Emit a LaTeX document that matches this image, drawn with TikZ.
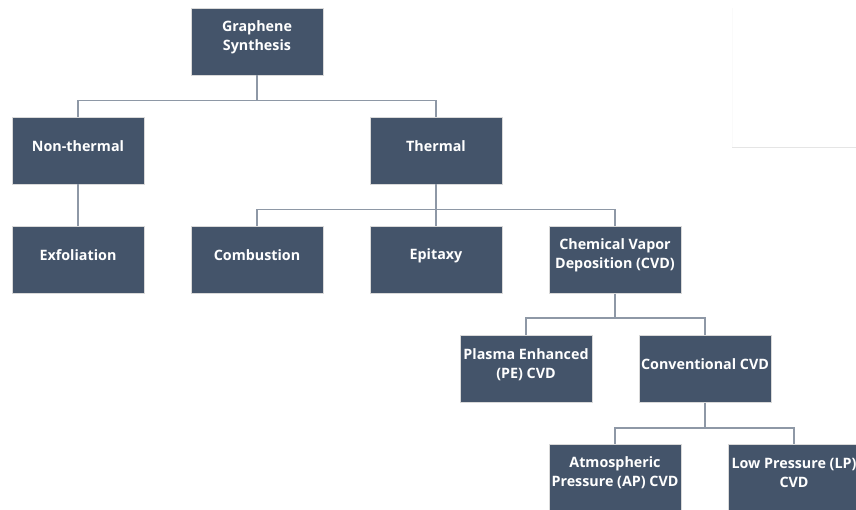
\documentclass[tikz,border=0pt]{standalone}
\usepackage{fontspec}
\setmainfont{Open Sans}
\begin{document}
\begin{tikzpicture}[x=1pt,y=-1pt,
  box/.style={draw=white!85!black,line width=0.6pt,fill=boxblue,
    minimum width=132pt,minimum height=67pt,inner sep=0pt},
  lab/.style={text=white,align=center,inner sep=0pt,yshift=4.5pt,
    font=\bfseries\fontsize{14.3}{19}\selectfont},
  conn/.style={draw=linegray,line width=1.4pt}]
\definecolor{boxblue}{HTML}{44546A}
\definecolor{linegray}{HTML}{8E98A6}
\useasboundingbox (0,0) rectangle (856,509);
\fill[white] (0,0) rectangle (856,509);
% faint stray rules at right
\coordinate (fc) at (732,8);
\coordinate (fa) at (732,147);
\coordinate (fb) at (856,147);
\draw[color=black!2,line width=0.5pt] (fc) -- (fa);
\draw[color=black!10,line width=0.8pt] (fa) -- (fb);

\node[box,label={[lab]center:Graphene\\Synthesis}] (gs) at (257,41.5) {};
\node[box,label={[lab]center:Non-thermal}] (nt) at (78,150.5) {};
\node[box,label={[lab]center:Thermal}] (th) at (436,150.5) {};
\node[box,label={[lab]center:Exfoliation}] (ex) at (78,260) {};
\node[box,label={[lab]center:Combustion}] (co) at (257,260) {};
\node[box,label={[lab]center:Epitaxy}] (ep) at (436,260) {};
\node[box,label={[lab]center:Chemical Vapor\\Deposition (CVD)}] (cvd) at (615,260) {};
\node[box,label={[lab]center:Plasma Enhanced\\(PE) CVD}] (pe) at (526,369) {};
\node[box,label={[lab]center:Conventional CVD}] (cc) at (705,369) {};
\node[box,label={[lab]center:Atmospheric\\Pressure (AP) CVD}] (ap) at (615,477.5) {};
\node[box,label={[lab]center:Low Pressure (LP)\\CVD}] (lp) at (794,477.5) {};

% connectors
\draw[conn] (gs.south) -- ++(0,25) -| (nt.north);
\draw[conn] (gs.south) -- ++(0,25) -| (th.north);
\draw[conn] (nt.south) -- (ex.north);
\draw[conn] (th.south) -- ++(0,25) -| (co.north);
\draw[conn] (th.south) -- (ep.north);
\draw[conn] (th.south) -- ++(0,25) -| (cvd.north);
\draw[conn] (cvd.south) -- ++(0,24) -| (pe.north);
\draw[conn] (cvd.south) -- ++(0,24) -| (cc.north);
\draw[conn] (cc.south) -- ++(0,25) -| (ap.north);
\draw[conn] (cc.south) -- ++(0,25) -| (lp.north);
\end{tikzpicture}
\end{document}
